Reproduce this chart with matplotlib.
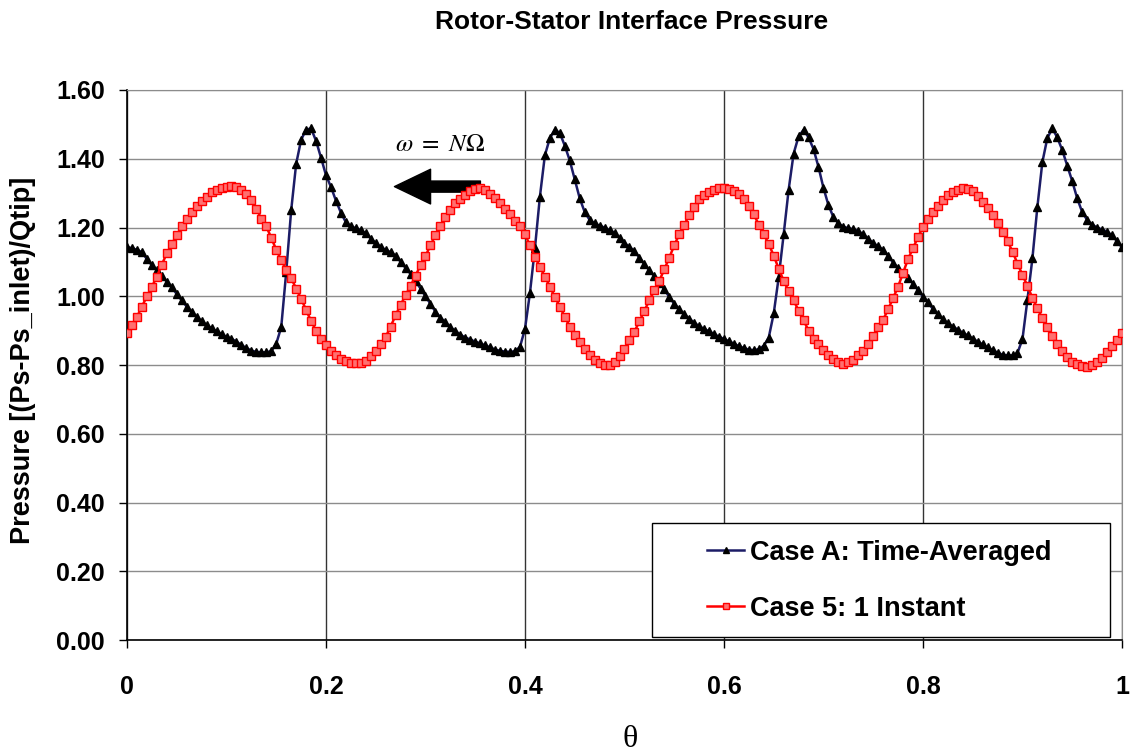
import matplotlib
matplotlib.use('Agg')
import matplotlib.pyplot as plt
from matplotlib.patches import Rectangle
import numpy as np

plt.rcParams['font.family'] = ['Liberation Sans', 'DejaVu Sans']
plt.rcParams['mathtext.fontset'] = 'stix'

# theta positions of the samples
theta = np.linspace(0.0, 1.0, 201)

# Case A: time-averaged pressure (4 blade passages)
case_a = [
    1.143, 1.140, 1.135, 1.128, 1.108, 1.090, 1.075, 1.060, 1.042, 1.027,
    1.006, 0.988, 0.970, 0.955, 0.940, 0.928, 0.916, 0.907, 0.898, 0.890,
    0.882, 0.876, 0.868, 0.858, 0.849, 0.842, 0.838, 0.837, 0.837, 0.840,
    0.862, 0.910, 1.070, 1.250, 1.385, 1.455, 1.485, 1.488, 1.452, 1.403,
    1.352, 1.318, 1.278, 1.243, 1.215, 1.203, 1.198, 1.192, 1.183, 1.168,
    1.155, 1.143, 1.135, 1.128, 1.118, 1.100, 1.082, 1.065, 1.045, 1.022,
    1.000, 0.978, 0.955, 0.938, 0.924, 0.910, 0.899, 0.888, 0.880, 0.874,
    0.868, 0.863, 0.857, 0.851, 0.845, 0.841, 0.839, 0.838, 0.840, 0.853,
    0.905, 1.010, 1.140, 1.290, 1.410, 1.460, 1.484, 1.475, 1.438, 1.395,
    1.340, 1.285, 1.245, 1.222, 1.212, 1.205, 1.200, 1.192, 1.185, 1.170,
    1.155, 1.143, 1.132, 1.112, 1.093, 1.075, 1.058, 1.040, 1.020, 0.998,
    0.978, 0.962, 0.947, 0.935, 0.923, 0.913, 0.905, 0.898, 0.890, 0.882,
    0.876, 0.869, 0.862, 0.855, 0.849, 0.845, 0.843, 0.846, 0.856, 0.880,
    0.950, 1.055, 1.180, 1.310, 1.415, 1.465, 1.484, 1.462, 1.428, 1.376,
    1.315, 1.265, 1.230, 1.212, 1.202, 1.198, 1.195, 1.190, 1.180, 1.167,
    1.155, 1.145, 1.135, 1.118, 1.098, 1.082, 1.068, 1.052, 1.037, 1.018,
    0.999, 0.982, 0.963, 0.947, 0.933, 0.921, 0.912, 0.903, 0.894, 0.886,
    0.877, 0.868, 0.860, 0.851, 0.843, 0.836, 0.830, 0.828, 0.828, 0.835,
    0.875, 0.990, 1.110, 1.260, 1.390, 1.460, 1.488, 1.462, 1.425, 1.380,
    1.335, 1.285, 1.245, 1.222, 1.208, 1.200, 1.194, 1.188, 1.177, 1.160,
    1.142,
]

# Case 5: one instant
case_5 = [
    0.892, 0.915, 0.940, 0.970, 1.000, 1.028, 1.057, 1.092, 1.125, 1.152,
    1.178, 1.203, 1.226, 1.245, 1.262, 1.277, 1.290, 1.302, 1.310, 1.314,
    1.317, 1.320, 1.318, 1.310, 1.296, 1.280, 1.255, 1.225, 1.203, 1.170,
    1.135, 1.105, 1.077, 1.053, 1.022, 0.993, 0.960, 0.928, 0.900, 0.875,
    0.858, 0.842, 0.828, 0.818, 0.811, 0.806, 0.805, 0.807, 0.813, 0.825,
    0.840, 0.860, 0.882, 0.912, 0.945, 0.975, 1.003, 1.030, 1.060, 1.090,
    1.117, 1.148, 1.178, 1.205, 1.232, 1.252, 1.270, 1.284, 1.295, 1.305,
    1.312, 1.314, 1.308, 1.298, 1.285, 1.270, 1.255, 1.240, 1.220, 1.203,
    1.180, 1.148, 1.115, 1.085, 1.057, 1.028, 0.998, 0.970, 0.940, 0.912,
    0.888, 0.866, 0.848, 0.830, 0.815, 0.806, 0.800, 0.800, 0.808, 0.825,
    0.848, 0.872, 0.897, 0.927, 0.958, 0.988, 1.017, 1.045, 1.078, 1.112,
    1.148, 1.180, 1.208, 1.235, 1.260, 1.282, 1.295, 1.304, 1.310, 1.314,
    1.316, 1.313, 1.307, 1.298, 1.282, 1.263, 1.238, 1.208, 1.180, 1.152,
    1.118, 1.080, 1.045, 1.015, 0.988, 0.958, 0.930, 0.900, 0.875, 0.860,
    0.843, 0.830, 0.818, 0.808, 0.804, 0.808, 0.815, 0.828, 0.842, 0.862,
    0.885, 0.910, 0.932, 0.962, 0.995, 1.028, 1.068, 1.108, 1.140, 1.172,
    1.202, 1.225, 1.245, 1.263, 1.280, 1.294, 1.303, 1.310, 1.314, 1.312,
    1.305, 1.292, 1.275, 1.256, 1.236, 1.213, 1.188, 1.160, 1.130, 1.095,
    1.062, 1.030, 0.995, 0.965, 0.936, 0.912, 0.885, 0.862, 0.840, 0.822,
    0.810, 0.802, 0.797, 0.795, 0.800, 0.808, 0.820, 0.838, 0.855, 0.873,
    0.892,
]

series_labels = ['Case A: Time-Averaged', 'Case 5: 1 Instant']
x_ticks = [0, 0.2, 0.4, 0.6, 0.8, 1.0]
x_tick_labels = ['0', '0.2', '0.4', '0.6', '0.8', '1']
y_ticks = [0.0, 0.2, 0.4, 0.6, 0.8, 1.0, 1.2, 1.4, 1.6]

fig = plt.figure(figsize=(11.31, 7.55), dpi=100, facecolor='white')
ax = fig.add_axes([0.1123, 0.1523, 0.8797, 0.7285])

ax.plot(theta, case_a, color='#1c1c66', lw=1.8, marker='^', ms=5.5,
        mfc='black', mec='black', label=series_labels[0], zorder=3)
ax.plot(theta, case_5, color='red', lw=1.8, marker='s', ms=5.5,
        mfc='#ff7070', mec='red', mew=1.0, label=series_labels[1], zorder=4)

ax.set_xlim(0, 1)
ax.set_ylim(0, 1.6)
ax.set_xticks(x_ticks)
ax.set_xticklabels(x_tick_labels)
ax.set_yticks(y_ticks)
ax.set_yticklabels(['%.2f' % v for v in y_ticks])
ax.tick_params(labelsize=18, direction='out', length=6, width=1)
ax.tick_params(axis='y', pad=10)
ax.tick_params(axis='x', pad=19)
for lab in ax.get_xticklabels() + ax.get_yticklabels():
    lab.set_fontweight('bold')

# grid: vertical lines darker than horizontal ones
ax.grid(axis='x', color='#333333', lw=1.0)
ax.grid(axis='y', color='#8c8c8c', lw=1.0)
ax.set_axisbelow(True)
for side in ['top', 'right']:
    ax.spines[side].set_color('#8c8c8c')
for side in ['left', 'bottom']:
    ax.spines[side].set_color('black')
    ax.spines[side].set_linewidth(1.2)

fig.text(0.5588, 0.971, 'Rotor-Stator Interface Pressure', fontsize=19,
         fontweight='bold', ha='center', va='center')
fig.text(0.0205, 0.523, 'Pressure [(Ps-Ps_inlet)/Qtip]', fontsize=19.5,
         fontweight='bold', rotation=90, ha='center', va='center')
fig.text(0.557, 0.02, '\u03b8', fontsize=23, family='Liberation Serif',
         ha='center', va='center')

# rotation direction arrow
ax.annotate('', xy=(0.266, 1.319), xytext=(0.358, 1.319),
            arrowprops=dict(arrowstyle='simple,head_length=1.3,head_width=1.25,tail_width=0.4',
                            fc='black', ec='black', mutation_scale=20))
ax.text(0.3146, 1.443, r'$\omega\ =\ N\Omega$', fontsize=18, ha='center',
        va='center')

# legend box drawn separately so the padding can match
ax.add_patch(Rectangle((0.5276, 0.0055), 0.4604, 0.2072, transform=ax.transAxes,
                       fc='white', ec='black', lw=1.0, zorder=5))
leg = ax.legend(loc='center', bbox_to_anchor=(0.7558, 0.108),
                fontsize=19.5, frameon=False, handlelength=1.4,
                handletextpad=0.2, labelspacing=1.1, borderpad=0.0,
                markerscale=0.8)
leg.set_zorder(6)
for t in leg.get_texts():
    t.set_fontweight('bold')

fig.savefig('out.png', dpi=100)
